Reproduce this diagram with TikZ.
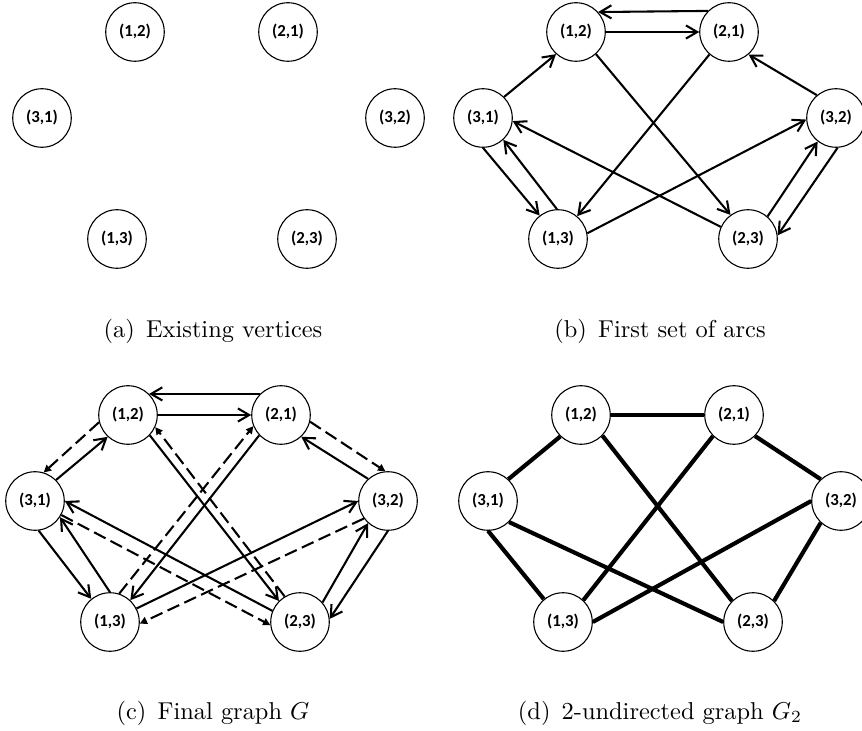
\documentclass[tikz,border=0pt]{standalone}
\usepackage{fontspec}
\newfontfamily\carlito{Carlito}
\usetikzlibrary{arrows.meta}
\newcommand\sixnodes[1]{%
  \node[vtx] (#112) at (135,-32)  {(1,2)};
  \node[vtx] (#121) at (288,-32)  {(2,1)};
  \node[vtx] (#131) at (42,-118)  {(3,1)};
  \node[vtx] (#132) at (395,-118) {(3,2)};
  \node[vtx] (#113) at (117,-239) {(1,3)};
  \node[vtx] (#123) at (307,-239) {(2,3)};
}
\begin{document}
\begin{tikzpicture}[x=0.41pt,y=0.41pt,
  vtx/.style={circle,draw,line width=0.45pt,minimum size=24pt,inner sep=0pt,
    font=\carlito\bfseries\fontsize{6.9}{8}\selectfont},
  arc/.style={line width=0.85pt,-{Straight Barb[length=4.6pt,width=5.4pt]}},
  darc/.style={line width=0.85pt,dash pattern=on 5.3pt off 2.3pt,
    -{Triangle[length=3pt,width=3pt]}},
  uedge/.style={line width=1.7pt},
  captext/.style={anchor=base,font=\normalsize}]
\useasboundingbox (0,0) rectangle (862,-731);
% (a)
\sixnodes{a}
\node[captext] (capa) at (213,-338) {(a)\hspace{4.6pt}Existing vertices};
% (b)
\begin{scope}[shift={(441,0)}]
\sixnodes{b}
\end{scope}
\draw[arc] (b21.135) -- (b12.42);
\draw[arc] (b12.0) -- (b21.180);
\draw[arc] (b31.45) -- (b12.228);
\draw[arc] (b12.312) -- (b23.126);
\draw[arc] (b21.229) -- (b13.50);
\draw[arc] (b32.130) -- (b21.311);
\draw[arc] (b23.156) -- (b31.354);
\draw[arc] (b13.11) -- (b32.183);
\draw[arc] (b31.270) -- (b13.128);
\draw[arc] (b13.92) -- (b31.313);
\draw[arc] (b23.49) -- (b32.232);
\draw[arc] (b32.273) -- (b23.7);
\node[captext] (capb) at (660,-338) {(b)\hspace{4.6pt}First set of arcs};
% (c)
\begin{scope}[shift={(-7,-383)}]
\sixnodes{c}
\end{scope}
\draw[arc] (c21.135) -- (c12.45);
\draw[arc] (c12.0) -- (c21.180);
\draw[arc] (c31.45) -- (c12.227);
\draw[arc] (c12.317) -- (c23.135);
\draw[arc] (c21.223) -- (c13.47);
\draw[arc] (c32.132) -- (c21.313);
\draw[arc] (c23.158) -- (c31.0);
\draw[arc] (c13.27) -- (c32.180);
\draw[arc] (c31.277) -- (c13.129);
\draw[arc] (c13.90) -- (c31.327);
\draw[arc] (c23.41) -- (c32.228);
\draw[arc] (c32.270) -- (c23.6);
\draw[darc] (c12.194) -- (c31.73);
\draw[darc] (c21.347) -- (c32.95);
\draw[darc] (c23.121) -- (c12.336);
\draw[darc] (c13.72) -- (c21.202);
\draw[darc] (c31.332) -- (c23.186);
\draw[darc] (c32.216) -- (c13.357);
\node[captext] (capc) at (213,-719) {(c)\hspace{4.6pt}Final graph $G$};
% (d)
\begin{scope}[shift={(446,-383)}]
\sixnodes{d}
\end{scope}
\draw[uedge] (d12.0) -- (d21.180);
\draw[uedge] (d31.47) -- (d12.226);
\draw[uedge] (d12.316) -- (d23.135);
\draw[uedge] (d21.225) -- (d13.47);
\draw[uedge] (d21.315) -- (d32.133);
\draw[uedge] (d31.270) -- (d13.130);
\draw[uedge] (d31.315) -- (d23.180);
\draw[uedge] (d13.0) -- (d32.180);
\draw[uedge] (d32.227) -- (d23.45);
\node[captext] (capd) at (660,-719) {(d)\hspace{4.6pt}2-undirected graph $G_2$};
\end{tikzpicture}
\end{document}
